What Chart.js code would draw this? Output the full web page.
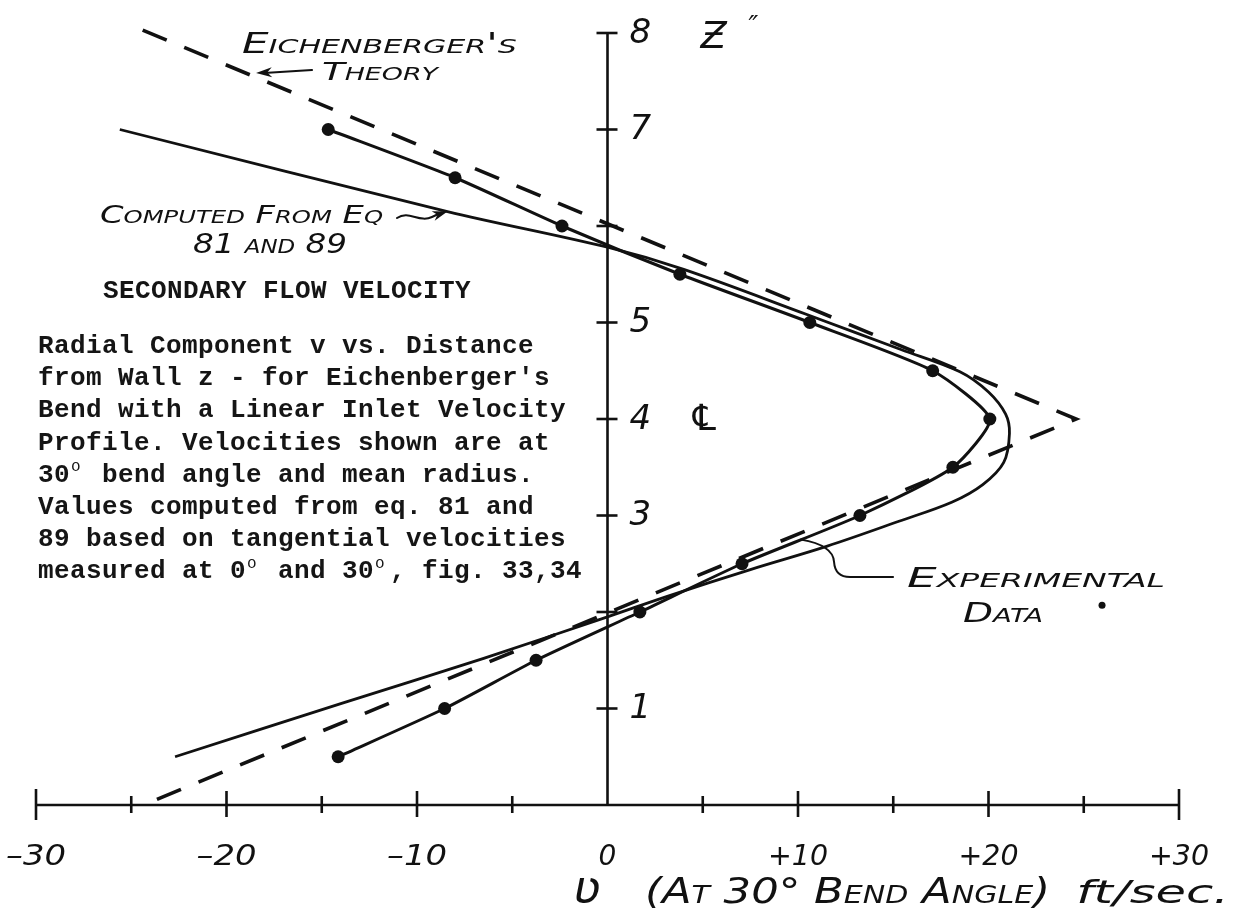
<!DOCTYPE html>
<html>
<head>
<meta charset="utf-8">
<script src="https://cdn.jsdelivr.net/npm/chart.js@4.4.1/dist/chart.umd.min.js"></script>
<style>
  html, body { margin: 0; padding: 0; background: #fff; }
  canvas { display: block; }
</style>
</head>
<body>
<canvas id="chart" width="1245" height="912"></canvas>
<script>
// Distance from wall z (inches) at which v was measured, and the measured v (ft/sec)
const expZ = [7.0, 6.5, 6.0, 5.5, 5.0, 4.5, 4.0, 3.5, 3.0, 2.5, 2.0, 1.5, 1.0, 0.5];
const expV = [-14.66, -8.0, -2.39, 3.8, 10.62, 17.07, 20.07, 18.13, 13.25, 7.06, 1.7, -3.75, -8.55, -14.14];

// Profile computed from eq. 81 and 89
const compZ = [7.0, 6.15, 5.78, 5.55, 5.08, 4.72, 4.49, 4.28, 4.05, 3.85, 3.55, 3.32, 3.14, 2.94, 2.68, 2.44, 2.16, 1.95, 1.52, 1.05, 0.5];
const compV = [-25.6, -8.4, 0, 4.0, 10.5, 15.4, 18.5, 20.0, 20.9, 21.1, 20.8, 19.7, 18.1, 15.3, 11.5, 7.5, 3.1, 0, -6.5, -14.0, -22.7];

// Eichenberger's theory: straight-line profile with its peak at the centreline
const theoryZ = [8.03, 4.0, 0.03];
const theoryV = [-24.4, 24.6, -24.0];

// Axis ticks and their labels
const vTicks = [-30, -25, -20, -15, -10, -5, 0, 5, 10, 15, 20, 25, 30];
const vLabelValues = [-30, -20, -10, 0, 10, 20, 30];
const vLabels = ['\u201330', '\u201320', '\u201310', '0', '+10', '+20', '+30'];
const zTicks = [1, 2, 3, 4, 5, 6, 7, 8];
const zLabelValues = [8, 7, 5, 4, 3, 1];
const zLabels = ['8', '7', '5', '4', '3', '1'];

// Typed caption
const captionTitle = 'SECONDARY FLOW VELOCITY';
const captionLines = [
  'Radial Component v vs. Distance',
  "from Wall z - for Eichenberger's",
  'Bend with a Linear Inlet Velocity',
  'Profile. Velocities shown are at',
  '30\u00b0 bend angle and mean radius.',
  'Values computed from eq. 81 and',
  '89 based on tangential velocities',
  'measured at 0\u00b0 and 30\u00b0, fig. 33,34'
];

const INK = '#111';
const HAND = "'DejaVu Sans', sans-serif";
const TYPE = "'Liberation Mono', monospace";

const pts = (vs, zs) => vs.map((v, i) => ({ x: v, y: zs[i] }));

function fitText(ctx, text, x, y, width, font) {
  ctx.save();
  ctx.font = font;
  const w = ctx.measureText(text).width;
  ctx.translate(x, y);
  ctx.scale(width / w, 1);
  ctx.textAlign = 'left';
  ctx.fillText(text, 0, 0);
  ctx.restore();
}

function typeLine(ctx, str, x, y, pitch, size) {
  const chars = [...str];
  chars.forEach((ch, i) => {
    const cx = x + i * pitch;
    if (ch === '\u00b0') {
      ctx.font = `${Math.round(size * 0.62)}px ${TYPE}`;
      ctx.fillText('o', cx + 1, y - size * 0.4);
    } else {
      ctx.font = `bold ${size}px ${TYPE}`;
      ctx.fillText(ch, cx, y);
    }
  });
}

function seg(ctx, x1, y1, x2, y2) {
  ctx.beginPath(); ctx.moveTo(x1, y1); ctx.lineTo(x2, y2); ctx.stroke();
}

function arrowHead(ctx, tipX, tipY, fromX, fromY, len, half) {
  const a = Math.atan2(tipY - fromY, tipX - fromX);
  ctx.beginPath();
  ctx.moveTo(tipX, tipY);
  ctx.lineTo(tipX - len * Math.cos(a) + half * Math.sin(a), tipY - len * Math.sin(a) - half * Math.cos(a));
  ctx.lineTo(tipX - len * Math.cos(a) * 0.7, tipY - len * Math.sin(a) * 0.7);
  ctx.lineTo(tipX - len * Math.cos(a) - half * Math.sin(a), tipY - len * Math.sin(a) + half * Math.cos(a));
  ctx.closePath();
  ctx.fill();
}

// Cross-shaped axes through v = 0 and z = 0
const axesPlugin = {
  id: 'crossAxes',
  beforeDatasetsDraw(chart) {
    const { ctx, scales: { x, y } } = chart;
    const X = v => x.getPixelForValue(v), Y = z => y.getPixelForValue(z);
    ctx.save();
    ctx.strokeStyle = INK;
    ctx.fillStyle = INK;
    ctx.lineWidth = 2.6;
    ctx.lineCap = 'butt';
    seg(ctx, X(-30), Y(0), X(30), Y(0));
    vTicks.forEach(v => {
      const end = Math.abs(v) === 30, major = v % 10 === 0;
      const up = end ? 16 : major ? 14 : 9;
      const dn = end ? 15 : major ? 12 : 8;
      if (v !== 0) seg(ctx, X(v), Y(0) - up, X(v), Y(0) + dn);
    });
    seg(ctx, X(0), Y(0), X(0), Y(8));
    zTicks.forEach(z => seg(ctx, X(0) - 11, Y(z), X(0) + 10, Y(z)));

    // tick labels
    ctx.textAlign = 'center';
    ctx.textBaseline = 'middle';
    vLabelValues.forEach((v, i) => {
      const t = vLabels[i];
      ctx.font = `italic 28px ${HAND}`;
      if (t.length > 1) {
        const w = ctx.measureText(t).width;
        ctx.save();
        ctx.translate(X(v), Y(0) + 53);
        ctx.scale(60 / w, 1);
        ctx.fillText(t, 0, 0);
        ctx.restore();
      } else {
        ctx.fillText(t, X(v), Y(0) + 53);
      }
    });
    ctx.textAlign = 'left';
    ctx.font = `italic 34px ${HAND}`;
    zLabelValues.forEach((z, i) => ctx.fillText(zLabels[i], X(0) + 22, Y(z) + 1));
    ctx.restore();
  }
};

// Hand-lettered notes, leaders and the typed caption
const notesPlugin = {
  id: 'notes',
  afterDatasetsDraw(chart) {
    const { ctx, scales: { x, y } } = chart;
    const X = v => x.getPixelForValue(v), Y = z => y.getPixelForValue(z);
    ctx.save();
    ctx.fillStyle = INK;
    ctx.strokeStyle = INK;
    ctx.textBaseline = 'alphabetic';

    // axis names
    ctx.font = `italic 38px ${HAND}`;
    ctx.fillText('\u01b5', X(4.9), Y(8) + 15);
    ctx.font = `italic 26px ${HAND}`;
    ctx.fillText('\u2033', X(7.4), Y(8) + 2);
    ctx.font = `italic 36px ${HAND}`;
    ctx.textAlign = 'center';
    ctx.textBaseline = 'middle';
    ctx.fillText('\u2104', X(5.07), Y(4) + 2);
    ctx.textAlign = 'left';
    ctx.textBaseline = 'alphabetic';

    ctx.font = `italic 46px ${HAND}`;
    ctx.fillText('\u028b', X(-1.8), Y(0) + 98);
    fitText(ctx, '(At 30\u00b0 Bend Angle)', X(1.97), Y(0) + 98, 405, `italic small-caps 36px ${HAND}`);
    fitText(ctx, 'ft/sec.', X(24.6), Y(0) + 98, 153, `italic 32px ${HAND}`);

    // notes on the curves
    fitText(ctx, "Eichenberger's", X(-19.19), Y(7.79), 275, `italic small-caps 28px ${HAND}`);
    fitText(ctx, 'Theory', X(-14.99), Y(7.51), 116, `italic small-caps 25px ${HAND}`);
    fitText(ctx, 'Computed From Eq', X(-26.64), Y(6.03), 283, `italic small-caps 25px ${HAND}`);
    fitText(ctx, '81 and 89', X(-21.76), Y(5.72), 154, `italic small-caps 27px ${HAND}`);
    fitText(ctx, 'Experimental', X(15.72), Y(2.26), 258, `italic small-caps 27px ${HAND}`);
    fitText(ctx, 'Data', X(18.66), Y(1.90), 80, `italic small-caps 27px ${HAND}`);
    ctx.beginPath();
    ctx.arc(X(25.96), Y(2.07), 3.5, 0, Math.PI * 2);
    ctx.fill();

    ctx.lineWidth = 2;
    ctx.lineCap = 'round';
    // arrow to the theory line
    const tx = X(-18.45), ty = Y(7.585);
    seg(ctx, X(-15.51), Y(7.617), tx + 8, ty);
    arrowHead(ctx, tx, ty, X(-15.51), Y(7.617), 16, 5);

    // wavy arrow to the computed profile
    const cx = X(compV[1]), cy = Y(compZ[1]);
    const sx = X(-11.05), sy = Y(6.083);
    ctx.beginPath();
    ctx.moveTo(sx, sy);
    ctx.bezierCurveTo(sx + 12, sy - 8, sx + 22, sy + 5, sx + 35, sy - 1);
    ctx.lineTo(cx - 6, cy + 1);
    ctx.stroke();
    arrowHead(ctx, cx, cy, sx + 30, sy, 15, 5);

    // leader to the experimental curve
    const ex = (X(expV[8]) + X(expV[9])) / 2, ey = (Y(expZ[8]) + Y(expZ[9])) / 2;
    const lx = X(14.99), ly = Y(2.363);
    ctx.beginPath();
    ctx.moveTo(lx, ly);
    ctx.lineTo(lx - 43, ly);
    ctx.quadraticCurveTo(lx - 58, ly, lx - 59, ly - 15);
    ctx.quadraticCurveTo(lx - 60, ly - 32, ex, ey);
    ctx.stroke();

    // typed caption
    ctx.fillStyle = '#151515';
    typeLine(ctx, captionTitle, X(-26.48), Y(5.25), 16, 26);
    captionLines.forEach((line, i) => {
      typeLine(ctx, line, X(-29.9), Y(4.684) + i * 32.2, 16, 26);
    });
    ctx.restore();
  }
};

new Chart(document.getElementById('chart'), {
  type: 'scatter',
  data: {
    datasets: [
      {
        label: "Eichenberger's Theory",
        data: pts(theoryV, theoryZ),
        showLine: true,
        borderColor: INK,
        borderWidth: 3.6,
        borderDash: [26, 19],
        pointRadius: 0,
        tension: 0,
        clip: false
      },
      {
        label: 'Computed from Eq 81 and 89',
        data: pts(compV, compZ),
        showLine: true,
        borderColor: INK,
        borderWidth: 2.8,
        pointRadius: 0,
        tension: 0.35,
        clip: false
      },
      {
        label: 'Experimental Data',
        data: pts(expV, expZ),
        showLine: true,
        borderColor: INK,
        borderWidth: 3,
        pointRadius: 6.5,
        pointBackgroundColor: INK,
        pointBorderColor: INK,
        pointBorderWidth: 0,
        tension: 0.2,
        clip: false
      }
    ]
  },
  options: {
    responsive: false,
    animation: false,
    events: [],
    layout: { autoPadding: false, padding: { left: 36, right: 66, top: 33, bottom: 107 } },
    plugins: { legend: { display: false }, tooltip: { enabled: false } },
    scales: {
      x: { type: 'linear', min: -30, max: 30, display: false },
      y: { type: 'linear', min: 0, max: 8, display: false }
    }
  },
  plugins: [axesPlugin, notesPlugin]
});
</script>
</body>
</html>
